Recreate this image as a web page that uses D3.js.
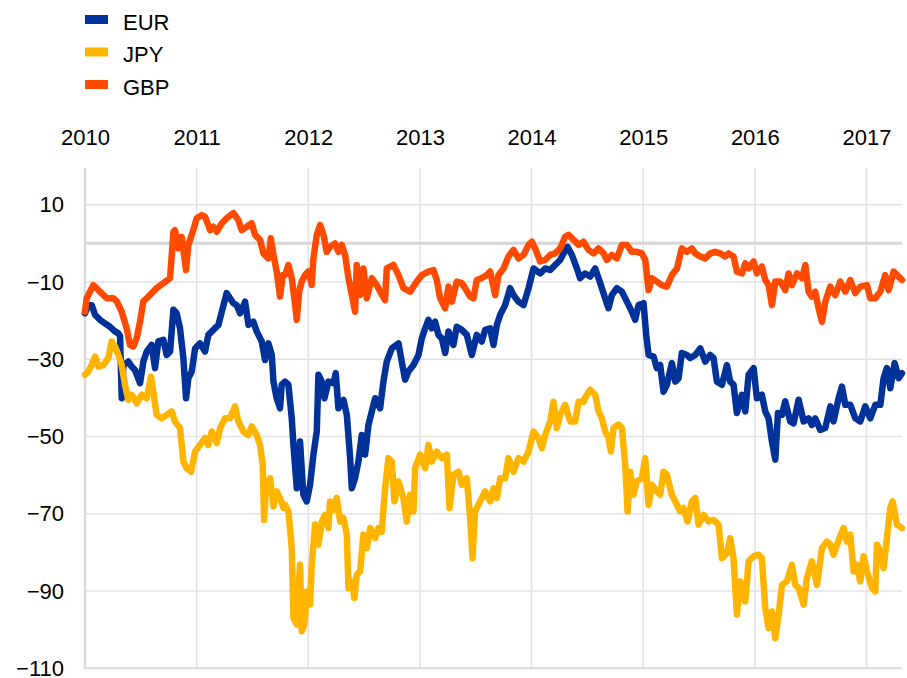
<!DOCTYPE html>
<html>
<head>
<meta charset="utf-8">
<script src="https://cdn.jsdelivr.net/npm/d3@7"></script>
<style>
  html, body { margin: 0; padding: 0; background: #fff; }
  svg { display: block; font-family: "Liberation Sans", Arial, sans-serif; }
</style>
</head>
<body>
<svg id="chart" width="907" height="678"></svg>
<script>
// ---- Data (decimal year, value) ----
const seriesNames = ["EUR", "JPY", "GBP"];
const seriesColors = ["#003299", "#FFB400", "#FF4B00"];
const yearTicks = [2010, 2011, 2012, 2013, 2014, 2015, 2016, 2017];
const valueTicks = [10, -10, -30, -50, -70, -90, -110];

const eurData = [
[2010.000,-18.1],[2010.030,-16],[2010.060,-16],[2010.090,-18.5],[2010.134,-19.8],[2010.179,-20.7],[2010.224,-21.6],[2010.269,-22.8],[2010.299,-23.3],[2010.314,-24],
[2010.329,-40.1],[2010.344,-31.5],[2010.388,-30.6],[2010.418,-31.9],[2010.448,-32.8],[2010.493,-36.2],[2010.523,-30.6],[2010.553,-28],[2010.597,-26.3],[2010.627,-32.3],
[2010.657,-25.4],[2010.702,-25],[2010.732,-28.9],[2010.762,-28],[2010.792,-17.2],[2010.821,-18.1],[2010.851,-22],[2010.881,-29.7],[2010.905,-40.1],[2010.926,-34.9],
[2010.956,-33.2],[2010.986,-27.2],[2011.030,-25.9],[2011.075,-28],[2011.105,-23.7],[2011.150,-22.4],[2011.195,-21.1],[2011.225,-17.7],[2011.269,-12.9],[2011.299,-14.2],
[2011.329,-15.5],[2011.359,-16],[2011.389,-18.1],[2011.434,-15.1],[2011.464,-21.1],[2011.508,-20.3],[2011.538,-22.8],[2011.583,-25.4],[2011.613,-30.2],[2011.643,-25.9],
[2011.673,-28.9],[2011.688,-35.8],[2011.717,-40.1],[2011.747,-42.7],[2011.762,-36.6],[2011.792,-35.8],[2011.822,-36.6],[2011.852,-45.3],[2011.867,-52.2],[2011.897,-63.4],
[2011.926,-51.3],[2011.956,-65.1],[2011.986,-66.8],[2012.016,-62.5],[2012.046,-54.7],[2012.076,-48.7],[2012.091,-34],[2012.121,-35.8],[2012.145,-40.1],[2012.180,-35.8],
[2012.225,-36.2],[2012.246,-33.6],[2012.270,-42.7],[2012.315,-40.5],[2012.345,-44.4],[2012.375,-55.6],[2012.390,-63.4],[2012.419,-60.8],[2012.449,-56.5],[2012.479,-49.6],
[2012.509,-54.7],[2012.539,-47],[2012.569,-43.5],[2012.599,-40.1],[2012.643,-42.7],[2012.673,-35.8],[2012.703,-30.6],[2012.748,-27.2],[2012.808,-25.9],[2012.837,-30.6],
[2012.867,-35.3],[2012.897,-33.2],[2012.942,-31.5],[2012.987,-28.9],[2013.017,-24.6],[2013.047,-22],[2013.076,-19.8],[2013.106,-22],[2013.136,-20.3],[2013.166,-23.7],
[2013.196,-24.6],[2013.226,-28.4],[2013.256,-22.8],[2013.300,-26.3],[2013.330,-21.6],[2013.375,-22.4],[2013.420,-23.7],[2013.465,-28.9],[2013.509,-23.7],[2013.554,-25.4],
[2013.584,-22.4],[2013.629,-22],[2013.659,-26.3],[2013.689,-21.1],[2013.719,-18.5],[2013.763,-16],[2013.808,-11.6],[2013.838,-13.4],[2013.883,-15.1],[2013.928,-16],
[2013.973,-11.6],[2014.017,-6.5],[2014.077,-7.8],[2014.122,-6.5],[2014.167,-6.9],[2014.211,-5.6],[2014.256,-4.3],[2014.286,-2.6],[2014.322,-0.9],[2014.361,-3],
[2014.406,-6.5],[2014.435,-9],[2014.480,-7.8],[2014.525,-8.6],[2014.570,-6.5],[2014.615,-10.3],[2014.659,-14.2],[2014.689,-16.8],[2014.719,-13.4],[2014.764,-11.6],
[2014.809,-12.5],[2014.854,-15.1],[2014.898,-17.7],[2014.928,-19.8],[2014.958,-16],[2015.003,-15.5],[2015.027,-23.7],[2015.048,-28.9],[2015.093,-29.3],[2015.122,-32.3],
[2015.152,-31.5],[2015.182,-38.4],[2015.212,-36.6],[2015.257,-31],[2015.287,-35.8],[2015.317,-34.9],[2015.346,-28.4],[2015.391,-28.9],[2015.421,-29.7],[2015.466,-28.9],
[2015.511,-27.2],[2015.556,-30.6],[2015.600,-28.9],[2015.630,-29.7],[2015.660,-35.8],[2015.705,-36.6],[2015.750,-31.5],[2015.779,-35.8],[2015.809,-36.6],[2015.839,-43.9],
[2015.884,-39.2],[2015.914,-43.5],[2015.944,-34],[2015.989,-32.3],[2016.018,-40.1],[2016.063,-39.2],[2016.093,-43.5],[2016.123,-45.3],[2016.153,-51.3],[2016.183,-56],
[2016.207,-43.9],[2016.243,-44.4],[2016.272,-40.9],[2016.317,-46.1],[2016.347,-46.6],[2016.392,-40.5],[2016.437,-46.1],[2016.481,-45.3],[2016.511,-47],[2016.541,-45.3],
[2016.586,-48.3],[2016.631,-47.8],[2016.676,-42.2],[2016.705,-46.1],[2016.750,-40.1],[2016.780,-37.1],[2016.810,-41.8],[2016.855,-41.8],[2016.900,-45.3],[2016.944,-46.1],
[2016.989,-42.2],[2017.034,-45.3],[2017.079,-41.8],[2017.124,-41.8],[2017.153,-34.9],[2017.183,-32.3],[2017.213,-37.5],[2017.252,-31],[2017.288,-34.9],[2017.318,-33.6]
];

const jpyData = [
[2010.000,-34],[2010.030,-33.2],[2010.060,-31.5],[2010.090,-29.3],[2010.120,-31.9],[2010.164,-31.5],[2010.209,-29.7],[2010.239,-25.4],[2010.269,-26.7],[2010.299,-28.9],
[2010.329,-31.5],[2010.358,-36.6],[2010.388,-40.5],[2010.418,-39.2],[2010.463,-41.4],[2010.508,-39.2],[2010.553,-40.1],[2010.591,-34.5],[2010.612,-38.4],[2010.642,-44.4],
[2010.687,-45.3],[2010.732,-44.4],[2010.776,-43.5],[2010.806,-46.1],[2010.851,-47.8],[2010.881,-56.5],[2010.911,-58.2],[2010.950,-59.1],[2010.986,-53.9],[2011.030,-52.2],
[2011.075,-50.4],[2011.105,-52.2],[2011.135,-48.7],[2011.180,-51.7],[2011.210,-47.8],[2011.254,-45.3],[2011.299,-45.3],[2011.344,-42.2],[2011.374,-46.1],[2011.419,-48.7],
[2011.464,-49.6],[2011.493,-47.4],[2011.538,-49.6],[2011.568,-52.2],[2011.592,-57.3],[2011.604,-71.6],[2011.622,-62.5],[2011.658,-60.8],[2011.688,-68.1],[2011.717,-64.2],
[2011.747,-65.9],[2011.777,-68.5],[2011.792,-67.7],[2011.822,-69.4],[2011.852,-78.9],[2011.867,-97],[2011.897,-98.7],[2011.926,-83.2],[2011.941,-100.4],[2011.965,-98.7],
[2011.986,-90.1],[2012.016,-93.5],[2012.031,-83.2],[2012.061,-72.8],[2012.091,-78],[2012.121,-72],[2012.150,-70.3],[2012.180,-73.7],[2012.195,-66.8],[2012.225,-69],
[2012.255,-65.9],[2012.285,-72],[2012.315,-71.1],[2012.345,-75.4],[2012.360,-89.2],[2012.390,-87.5],[2012.413,-91.8],[2012.434,-85.8],[2012.464,-84.9],[2012.494,-75.4],
[2012.524,-78.9],[2012.554,-73.7],[2012.599,-76.3],[2012.628,-73.7],[2012.658,-74.6],[2012.688,-63.4],[2012.718,-55.6],[2012.748,-56.5],[2012.772,-66.8],[2012.808,-61.6],
[2012.852,-65.9],[2012.882,-72],[2012.912,-65.1],[2012.942,-69.4],[2012.957,-58.2],[2013.002,-54.7],[2013.047,-58.2],[2013.076,-52.2],[2013.106,-56.5],[2013.151,-53.9],
[2013.196,-55.6],[2013.241,-54.7],[2013.265,-68.5],[2013.300,-59.9],[2013.345,-59.1],[2013.375,-62.5],[2013.420,-60.8],[2013.450,-71.1],[2013.471,-81.5],[2013.494,-69.4],
[2013.539,-66.8],[2013.584,-64.2],[2013.629,-66.8],[2013.659,-63.4],[2013.689,-65.9],[2013.719,-60.8],[2013.763,-60.8],[2013.793,-55.6],[2013.838,-59.1],[2013.883,-55.6],
[2013.928,-56.5],[2013.973,-53.9],[2014.017,-48.7],[2014.062,-50.4],[2014.092,-53],[2014.122,-49.6],[2014.167,-46.1],[2014.196,-41],[2014.226,-47.8],[2014.256,-44.4],
[2014.301,-41.8],[2014.346,-46.1],[2014.391,-46.1],[2014.421,-41],[2014.465,-41],[2014.495,-39.2],[2014.525,-37.9],[2014.570,-39.2],[2014.600,-43.5],[2014.630,-45.3],
[2014.659,-48.7],[2014.689,-50.4],[2014.710,-53.9],[2014.734,-47.8],[2014.779,-46.9],[2014.809,-47.8],[2014.839,-57.3],[2014.860,-69.4],[2014.883,-59.1],[2014.913,-65.1],
[2014.943,-61.6],[2014.988,-60.8],[2015.018,-55.6],[2015.048,-67.7],[2015.078,-62.5],[2015.122,-64.2],[2015.152,-65.1],[2015.182,-59.1],[2015.212,-59.9],[2015.257,-65.1],
[2015.287,-66.8],[2015.331,-69.4],[2015.361,-68.5],[2015.397,-72],[2015.436,-66.8],[2015.466,-65.9],[2015.496,-72.8],[2015.541,-70.3],[2015.585,-72],[2015.630,-71.6],
[2015.675,-72.8],[2015.705,-81.5],[2015.750,-80.2],[2015.779,-76.3],[2015.809,-81.5],[2015.839,-96.1],[2015.869,-87.5],[2015.914,-92.7],[2015.944,-82.3],[2015.989,-81],
[2016.033,-80.6],[2016.063,-81.5],[2016.093,-94.4],[2016.123,-99.6],[2016.153,-95.3],[2016.183,-102.2],[2016.213,-96.1],[2016.243,-88.4],[2016.287,-87.5],[2016.332,-83.2],
[2016.362,-88.4],[2016.392,-89.2],[2016.437,-93.5],[2016.466,-86.6],[2016.511,-82.3],[2016.556,-88.4],[2016.601,-78.9],[2016.646,-77.2],[2016.676,-78],[2016.705,-80.6],
[2016.735,-78],[2016.795,-73.7],[2016.825,-77.2],[2016.855,-75.4],[2016.885,-84.9],[2016.914,-83.2],[2016.944,-87.5],[2016.974,-81],[2017.004,-84.9],[2017.049,-89.2],
[2017.079,-90.1],[2017.094,-78],[2017.124,-79.7],[2017.153,-84.1],[2017.183,-76.3],[2017.213,-68.5],[2017.234,-66.8],[2017.273,-72.8],[2017.318,-73.7]
];

const gbpData = [
[2010.000,-17.7],[2010.015,-14.2],[2010.075,-10.8],[2010.134,-12.5],[2010.194,-14.2],[2010.254,-14.2],[2010.284,-15],[2010.329,-17.7],[2010.373,-22],[2010.403,-26.3],
[2010.433,-26.7],[2010.463,-24.6],[2010.493,-20.3],[2010.523,-15],[2010.553,-14.2],[2010.597,-12.9],[2010.642,-11.6],[2010.702,-10.3],[2010.762,-9],[2010.792,3],
[2010.806,3.4],[2010.836,-1.3],[2010.866,1.7],[2010.905,-6.9],[2010.926,-0.4],[2010.956,2.2],[2011.001,6.5],[2011.045,7.3],[2011.075,6.9],[2011.120,3.4],
[2011.150,4.3],[2011.180,3],[2011.225,5.2],[2011.269,6.5],[2011.329,7.8],[2011.374,6],[2011.404,3.4],[2011.449,4.3],[2011.493,5.2],[2011.523,2.2],
[2011.568,0.9],[2011.598,-2.6],[2011.643,-3.9],[2011.664,1.3],[2011.688,-3],[2011.717,-7.3],[2011.747,-13.8],[2011.771,-8.2],[2011.792,-8.2],[2011.822,-5.6],
[2011.852,-9],[2011.882,-15.9],[2011.897,-19.8],[2011.918,-12.5],[2011.941,-9.9],[2011.971,-8.2],[2012.001,-7.3],[2012.031,-10.8],[2012.046,-3.9],[2012.076,2.2],
[2012.106,4.7],[2012.136,2.2],[2012.165,-2.2],[2012.195,-0.9],[2012.240,0],[2012.270,-2.2],[2012.300,-0.4],[2012.330,-3],[2012.360,-9],[2012.390,-13.4],
[2012.419,-17.7],[2012.434,-5.6],[2012.464,-13.4],[2012.494,-6.5],[2012.524,-14.2],[2012.569,-9],[2012.613,-10.8],[2012.643,-12.5],[2012.688,-14.7],[2012.703,-6.5],
[2012.763,-5.6],[2012.808,-8.2],[2012.852,-11.6],[2012.912,-12.5],[2012.972,-9.9],[2013.017,-8.2],[2013.076,-7.3],[2013.121,-6.9],[2013.151,-9.5],[2013.181,-14.2],
[2013.226,-16.8],[2013.256,-11.2],[2013.286,-15.1],[2013.330,-9.9],[2013.375,-10.3],[2013.405,-11.6],[2013.450,-13.8],[2013.480,-14.2],[2013.509,-9.5],[2013.554,-9],
[2013.599,-8.2],[2013.629,-7.3],[2013.674,-13.4],[2013.704,-8.2],[2013.749,-6.5],[2013.793,-3.4],[2013.838,-1.7],[2013.883,-3.9],[2013.928,-3],[2013.973,-0.4],
[2014.002,0.4],[2014.032,-1.3],[2014.077,-4.7],[2014.122,-4.3],[2014.167,-3],[2014.211,-2.6],[2014.256,-1.3],[2014.301,1.7],[2014.331,2.2],[2014.376,0.9],
[2014.421,-0.4],[2014.465,0.4],[2014.510,-1.7],[2014.555,-2.6],[2014.600,-1.3],[2014.645,-2.6],[2014.674,-4.3],[2014.719,-3],[2014.764,-3.9],[2014.809,-0.4],
[2014.854,-0.4],[2014.898,-2.2],[2014.943,-2.2],[2014.988,-2.6],[2015.018,-4.3],[2015.048,-12.1],[2015.078,-9],[2015.122,-9.9],[2015.167,-10.8],[2015.212,-11.2],
[2015.257,-8.2],[2015.302,-6.5],[2015.346,-1.3],[2015.391,-2.2],[2015.436,-1.3],[2015.466,-2.6],[2015.511,-3.4],[2015.556,-3.9],[2015.600,-2.6],[2015.645,-2.2],
[2015.690,-2.6],[2015.735,-3.4],[2015.765,-2.6],[2015.809,-3.4],[2015.839,-7.3],[2015.884,-7.8],[2015.914,-5.2],[2015.944,-6.5],[2015.989,-4.7],[2016.018,-7.8],
[2016.063,-6],[2016.093,-9.5],[2016.123,-10.8],[2016.153,-16],[2016.183,-9.9],[2016.228,-9.9],[2016.272,-12.1],[2016.302,-7.8],[2016.332,-10.8],[2016.377,-7.8],
[2016.422,-9],[2016.452,-5.6],[2016.481,-12.5],[2016.511,-13.8],[2016.541,-12.5],[2016.571,-16.8],[2016.601,-20.3],[2016.631,-15.1],[2016.676,-11.2],[2016.720,-13.4],
[2016.765,-9.9],[2016.810,-12.5],[2016.855,-9.5],[2016.900,-12.9],[2016.944,-11.2],[2017.004,-10.8],[2017.034,-14.2],[2017.079,-14.2],[2017.124,-12.5],[2017.168,-8.2],
[2017.198,-12.1],[2017.243,-7.3],[2017.273,-8.2],[2017.318,-9.5]
];

const allSeries = [eurData, jpyData, gbpData];

// ---- Layout ----
const svg = d3.select("#chart");
const plotLeft = 85, plotRight = 902, plotTop = 168, plotBottom = 668.3;

const x = d3.scaleLinear().domain([2010, 2017.318]).range([plotLeft, plotRight]);
const y = d3.scaleLinear().domain([-110, 19.5]).range([plotBottom, plotTop]);

const grid = svg.append("g");
// vertical gridlines
grid.selectAll("line.v").data(yearTicks.filter(d => d > 2010)).enter().append("line")
  .attr("x1", d => x(d)).attr("x2", d => x(d))
  .attr("y1", plotTop).attr("y2", plotBottom)
  .attr("stroke", "#e2e2e2").attr("stroke-width", 1.5);
// horizontal gridlines
grid.selectAll("line.h").data(valueTicks.filter(d => d > -110)).enter().append("line")
  .attr("x1", plotLeft).attr("x2", plotRight)
  .attr("y1", d => y(d)).attr("y2", d => y(d))
  .attr("stroke", "#e2e2e2").attr("stroke-width", 1.5);
// zero line
grid.append("line")
  .attr("x1", plotLeft).attr("x2", plotRight)
  .attr("y1", y(0)).attr("y2", y(0))
  .attr("stroke", "#d6d6d6").attr("stroke-width", 3);
// axis frame lines
grid.append("line").attr("x1", plotLeft).attr("x2", plotLeft).attr("y1", plotTop).attr("y2", plotBottom + 1)
  .attr("stroke", "#d9d9d9").attr("stroke-width", 2.5);
grid.append("line").attr("x1", plotLeft).attr("x2", plotRight).attr("y1", y(-110)).attr("y2", y(-110))
  .attr("stroke", "#d9d9d9").attr("stroke-width", 2);

// top axis (year labels)
const xAxis = d3.axisTop(x).tickValues(yearTicks).tickFormat(d3.format("d")).tickSize(0).tickPadding(23);
const gx = svg.append("g").attr("transform", `translate(0,${plotTop})`).call(xAxis);
gx.select(".domain").remove();
gx.selectAll("text").attr("font-size", 22).attr("fill", "#000")
  .attr("font-family", '"Liberation Sans", Arial, sans-serif');

// left axis (value labels)
const yAxis = d3.axisLeft(y).tickValues(valueTicks).tickFormat(d3.format("d")).tickSize(0).tickPadding(21);
const gy = svg.append("g").attr("transform", `translate(${plotLeft},0)`).call(yAxis);
gy.select(".domain").remove();
gy.selectAll("text").attr("font-size", 22).attr("fill", "#000")
  .attr("font-family", '"Liberation Sans", Arial, sans-serif');

// lines
const lineGen = d3.line().x(d => x(d[0])).y(d => y(d[1]));
const lineLayer = svg.append("g");
allSeries.forEach((data, i) => {
  lineLayer.append("path")
    .datum(data)
    .attr("d", lineGen)
    .attr("fill", "none")
    .attr("stroke", seriesColors[i])
    .attr("stroke-width", 6.5)
    .attr("stroke-linejoin", "round")
    .attr("stroke-linecap", "round");
});

// legend
const legend = svg.append("g");
seriesNames.forEach((name, i) => {
  const g = legend.append("g").attr("transform", `translate(85,${15 + i * 32.5})`);
  g.append("rect").attr("x", 0).attr("y", 0).attr("width", 23).attr("height", 9).attr("fill", seriesColors[i]);
  g.append("text").attr("x", 38).attr("y", 14.5).text(name)
    .attr("font-size", 22).attr("fill", "#000");
});
</script>
</body>
</html>
